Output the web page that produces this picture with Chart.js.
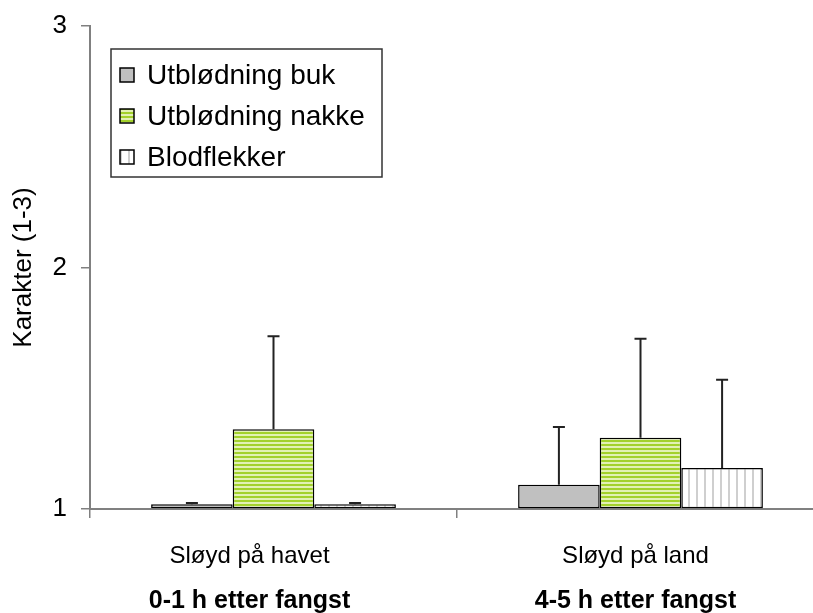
<!DOCTYPE html>
<html>
<head>
<meta charset="utf-8">
<script src="https://cdn.jsdelivr.net/npm/chart.js@4/dist/chart.umd.min.js"></script>
<style>
html,body{margin:0;padding:0;overflow:hidden;background:#fff;}
#wrap{width:840px;height:613px;position:relative;}
</style>
</head>
<body>
<div id="wrap"><canvas id="c" width="840" height="613"></canvas></div>
<script>
const categories = ['Sløyd på havet', 'Sløyd på land'];
const subLabels = ['0-1 h etter fangst', '4-5 h etter fangst'];
const seriesNames = ['Utblødning buk', 'Utblødning nakke', 'Blodflekker'];
const bukValues = [1.02, 1.10];
const bukErrors = [0.005, 0.24];
const nakkeValues = [1.33, 1.295];
const nakkeErrors = [0.385, 0.41];
const blodValues = [1.02, 1.17];
const blodErrors = [0.005, 0.365];
const yTicks = [1, 2, 3];

const FONT = '"Liberation Sans", Arial, sans-serif';
// horizontal nudges of the category text under each group (layout only)
const labelShift = [-24, -5];

function makePattern(w, h, draw) {
  const c = document.createElement('canvas');
  c.width = w; c.height = h;
  const g = c.getContext('2d');
  draw(g, w, h);
  return c.getContext('2d').createPattern(c, 'repeat');
}
const grayFill = '#c0c0c0';
const greenFill = makePattern(4, 4, (g, w, h) => {
  g.fillStyle = '#e2f1b4'; g.fillRect(0, 0, w, h);
  g.fillStyle = '#a3d12c'; g.fillRect(0, 0, w, 2);
});
const blodFill = makePattern(8, 8, (g, w, h) => {
  g.fillStyle = '#ffffff'; g.fillRect(0, 0, w, h);
  g.fillStyle = '#cfcfcf'; g.fillRect(0, 0, 2, h);
});

const errorsBy = [bukErrors, nakkeErrors, blodErrors];

const errorBarPlugin = {
  id: 'errorBars',
  afterDatasetsDraw(chart) {
    const ctx = chart.ctx;
    const y = chart.scales.y;
    ctx.save();
    ctx.strokeStyle = '#222';
    ctx.lineWidth = 2;
    chart.data.datasets.forEach((ds, di) => {
      const meta = chart.getDatasetMeta(di);
      meta.data.forEach((bar, i) => {
        const v = ds.data[i];
        const e = errorsBy[di][i];
        const top = y.getPixelForValue(v + e);
        ctx.beginPath();
        ctx.moveTo(bar.x, bar.y);
        ctx.lineTo(bar.x, top);
        ctx.moveTo(bar.x - 6, top);
        ctx.lineTo(bar.x + 6, top);
        ctx.stroke();
      });
    });
    ctx.restore();
  }
};

const legendPlugin = {
  id: 'boxLegend',
  afterDraw(chart) {
    const ctx = chart.ctx;
    const x0 = 111, y0 = 49, w = 271, h = 128;
    ctx.save();
    ctx.fillStyle = '#fff';
    ctx.fillRect(x0, y0, w, h);
    ctx.strokeStyle = '#333';
    ctx.lineWidth = 1.5;
    ctx.strokeRect(x0, y0, w, h);
    ctx.font = '28px ' + FONT;
    ctx.textBaseline = 'middle';
    chart.data.datasets.forEach((ds, i) => {
      const cy = y0 + 26 + i * 41;
      ctx.fillStyle = ds.backgroundColor;
      ctx.fillRect(120, cy - 7, 14, 14);
      ctx.strokeStyle = '#000';
      ctx.lineWidth = 1.5;
      ctx.strokeRect(120, cy - 7, 14, 14);
      ctx.fillStyle = '#000';
      ctx.fillText(ds.label, 147, cy + 1);
    });
    ctx.restore();
  }
};

const catLabelPlugin = {
  id: 'catLabels',
  afterDraw(chart) {
    const ctx = chart.ctx;
    const x = chart.scales.x;
    ctx.save();
    ctx.fillStyle = '#000';
    ctx.textAlign = 'center';
    ctx.textBaseline = 'middle';
    chart.data.labels.forEach((s, i) => {
      const cx = x.getPixelForValue(i) + labelShift[i];
      ctx.font = '24px ' + FONT;
      ctx.fillText(s, cx, 556);
      ctx.font = 'bold 25px ' + FONT;
      ctx.fillText(subLabels[i], cx, 601);
    });
    ctx.restore();
  }
};

new Chart(document.getElementById('c'), {
  type: 'bar',
  data: {
    labels: categories,
    datasets: [
      { label: seriesNames[0], data: bukValues, backgroundColor: grayFill },
      { label: seriesNames[1], data: nakkeValues, backgroundColor: greenFill },
      { label: seriesNames[2], data: blodValues, backgroundColor: blodFill }
    ]
  },
  options: {
    responsive: false,
    animation: false,
    devicePixelRatio: 1,
    layout: { padding: { left: 0, right: 16, top: 26, bottom: 0 } },
    datasets: {
      bar: {
        base: 1,
        borderColor: '#000',
        borderWidth: 1.5,
        borderSkipped: false,
        categoryPercentage: 0.667,
        barPercentage: 1.0
      }
    },
    plugins: {
      legend: { display: false },
      tooltip: { enabled: false }
    },
    scales: {
      x: {
        afterFit(s) { s.height = 104; s.paddingLeft = 0; s.paddingRight = 0; },
        grid: { drawOnChartArea: false, drawTicks: true, tickLength: 9, color: '#808080', lineWidth: 1.5, offset: true },
        border: { color: '#808080', width: 2 },
        ticks: { display: false }
      },
      y: {
        min: 1, max: 3,
        afterFit(s) { s.width = 90; s.paddingTop = 0; s.paddingBottom = 0; },
        afterBuildTicks(s) { s.ticks = yTicks.map(v => ({ value: v })); },
        grid: { drawOnChartArea: false, drawTicks: true, tickLength: 9, color: '#808080', lineWidth: 1.5 },
        border: { color: '#808080', width: 2 },
        ticks: { color: '#000', font: { family: FONT, size: 26 }, padding: 14 },
        title: { display: true, text: 'Karakter (1-3)', color: '#000', font: { family: FONT, size: 26 }, padding: { top: 8, bottom: 0 } }
      }
    }
  },
  plugins: [errorBarPlugin, legendPlugin, catLabelPlugin]
});
</script>
</body>
</html>
